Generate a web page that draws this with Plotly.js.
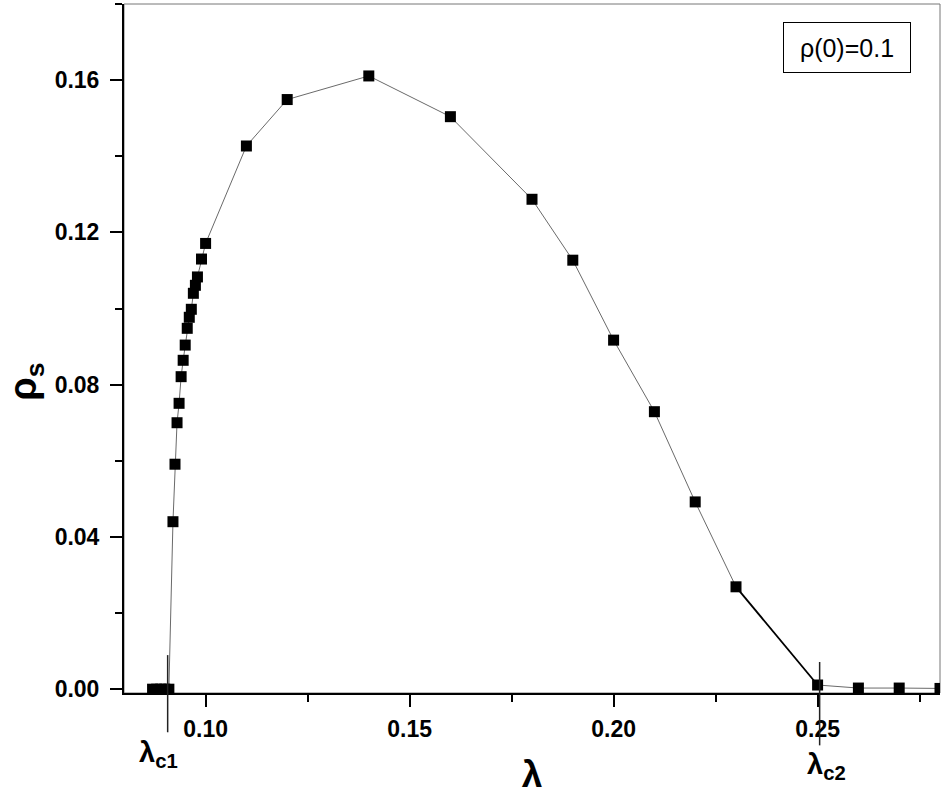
<!DOCTYPE html>
<html>
<head>
<meta charset="utf-8">
<script src="https://cdn.plot.ly/plotly-3.0.1.min.js"></script>
<style>html,body{margin:0;padding:0;background:#fff;}#chart{width:944px;height:800px;}</style>
</head>
<body>
<div id="chart"></div>
<script>
// data
var lambda = [0.087, 0.088, 0.089, 0.090, 0.091,
  0.092, 0.0925, 0.093, 0.0935, 0.094, 0.0945, 0.095, 0.0955, 0.096, 0.0965,
  0.097, 0.0975, 0.098, 0.099, 0.100,
  0.11, 0.12, 0.14, 0.16, 0.18, 0.19, 0.20, 0.21, 0.22, 0.23,
  0.25, 0.26, 0.27, 0.28];
var rhoS = [0, 0, 0, 0, 0,
  0.0440, 0.0591, 0.0700, 0.0751, 0.0821, 0.0864, 0.0904, 0.0948, 0.0977, 0.0998,
  0.1040, 0.1061, 0.1083, 0.1130, 0.1171,
  0.1427, 0.1549, 0.1611, 0.1504, 0.1287, 0.1127, 0.0917, 0.0729, 0.0492, 0.0269,
  0.0011, 0.0003, 0.0003, 0.0002];
var lambdaC1 = 0.0907;
var lambdaC2 = 0.2505;
var xTickVals = [0.10, 0.15, 0.20, 0.25];
var yTickVals = [0.00, 0.04, 0.08, 0.12, 0.16];
var legendText = 'ρ(0)=0.1';

var i23 = lambda.indexOf(0.23), i25 = lambda.indexOf(0.25);

var traces = [
  {x: lambda, y: rhoS, type: 'scatter', mode: 'lines',
   line: {color: '#6a6a6a', width: 1}, hoverinfo: 'skip', showlegend: false},
  {x: lambda.slice(i23, i25 + 1), y: rhoS.slice(i23, i25 + 1), type: 'scatter', mode: 'lines',
   line: {color: '#000', width: 1.8}, hoverinfo: 'skip', showlegend: false},
  {x: lambda, y: rhoS, type: 'scatter', mode: 'markers', cliponaxis: true,
   marker: {symbol: 'square', size: 11, color: '#000', line: {width: 0}}, showlegend: false}
];

var tickFont = {family: 'Liberation Sans, Arial, sans-serif', size: 23, color: '#000', weight: 'bold'};

var layout = {
  width: 944, height: 800,
  margin: {l: 124, r: 4, t: 4, b: 107, pad: 0},
  paper_bgcolor: '#fff', plot_bgcolor: '#fff',
  showlegend: false,
  xaxis: {
    range: [0.08, 0.28], tickvals: xTickVals, tickformat: '.2f',
    ticks: 'outside', ticklen: 12, tickwidth: 2, tickcolor: '#000',
    minor: {ticks: 'outside', ticklen: 7, tickwidth: 2, tickcolor: '#000', dtick: 0.025, tick0: 0, showgrid: false},
    showline: true, linewidth: 2, linecolor: '#000', showgrid: false, zeroline: false,
    tickfont: tickFont, ticklabelstandoff: 2,
    title: {text: 'λ', font: {family: 'Liberation Sans, Arial, sans-serif', size: 37, color: '#000', weight: 'bold'}, standoff: 21}
  },
  yaxis: {
    range: [-0.001, 0.18], tickvals: yTickVals, tickformat: '.2f',
    ticks: 'outside', ticklen: 12, tickwidth: 2, tickcolor: '#000',
    minor: {ticks: 'outside', ticklen: 7, tickwidth: 2, tickcolor: '#000', dtick: 0.02, tick0: 0, showgrid: false},
    showline: true, linewidth: 2, linecolor: '#000', showgrid: false, zeroline: false,
    tickfont: tickFont, ticklabelstandoff: 6
  },
  shapes: [
    {type: 'rect', xref: 'paper', yref: 'paper', x0: 0, x1: 1, y0: 0, y1: 1,
     line: {color: '#777', width: 1}, layer: 'below'},
    {type: 'line', xref: 'x', yref: 'paper', x0: lambdaC1, x1: lambdaC1, y0: -0.057, y1: 0.055,
     line: {color: '#222', width: 1.5}},
    {type: 'line', xref: 'x', yref: 'paper', x0: lambdaC2, x1: lambdaC2, y0: -0.076, y1: 0.045,
     line: {color: '#222', width: 1.5}}
  ],
  annotations: [
    {text: '<b>ρ<sub>s</sub></b>', xref: 'paper', yref: 'paper', x: -0.121, y: 0.452,
     xanchor: 'center', yanchor: 'middle', textangle: -90, showarrow: false,
     font: {family: 'Liberation Sans, Arial, sans-serif', size: 38, color: '#000'}},
    {text: '<b>λ<sub>c1</sub></b>', xref: 'x', yref: 'paper', x: lambdaC1, y: -0.088,
     xanchor: 'center', yanchor: 'middle', showarrow: false, xshift: -9,
     font: {family: 'Liberation Sans, Arial, sans-serif', size: 29, color: '#000'}},
    {text: '<b>λ<sub>c2</sub></b>', xref: 'x', yref: 'paper', x: lambdaC2, y: -0.106,
     xanchor: 'center', yanchor: 'middle', showarrow: false, xshift: 7,
     font: {family: 'Liberation Sans, Arial, sans-serif', size: 29, color: '#000'}},
    {text: legendText, xref: 'paper', yref: 'paper', x: 0.8866, y: 0.9369,
     xanchor: 'center', yanchor: 'middle', showarrow: false,
     width: 124, height: 47, borderpad: 1, bordercolor: '#000', borderwidth: 1, bgcolor: '#fff',
     font: {family: 'Liberation Sans, Arial, sans-serif', size: 25, color: '#000'}}
  ]
};

Plotly.newPlot('chart', traces, layout, {displayModeBar: false, staticPlot: true});
</script>
</body>
</html>
